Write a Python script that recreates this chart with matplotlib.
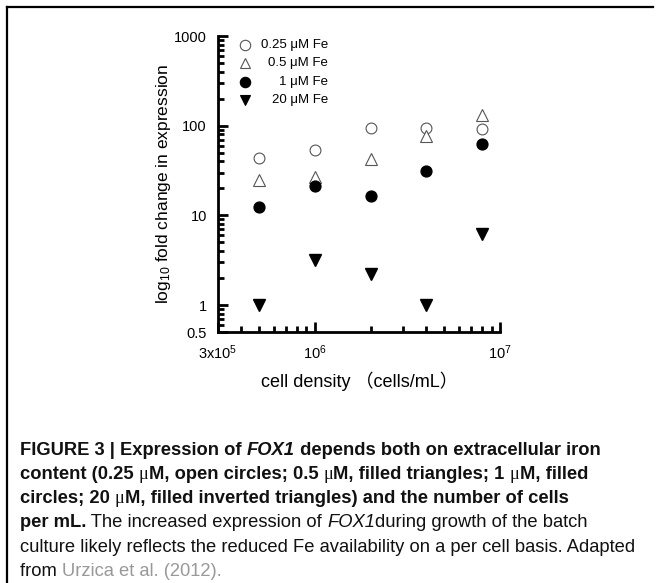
import matplotlib
matplotlib.use("Agg")
import matplotlib.pyplot as plt
from matplotlib.lines import Line2D
from matplotlib.ticker import FixedLocator, NullFormatter

# data
cell_density = [5e5, 1e6, 2e6, 4e6, 8e6]
fe_025 = [44, 54, 93, 94, 91]
fe_05 = [24.5, 27, 42, 77, 131]
fe_1 = [12.5, 21.5, 16.3, 31.5, 62]
fe_20 = [1.0, 3.2, 2.2, 1.0, 6.2]

series_labels = ["0.25 \u03bcM Fe", "0.5 \u03bcM Fe", "1 \u03bcM Fe", "20 \u03bcM Fe"]
x_ticks = [3e5, 1e6, 1e7]
x_ticklabels = ["3x10$^5$", "10$^6$", "10$^7$"]
y_ticks = [0.5, 1, 10, 100, 1000]
y_ticklabels = ["0.5", "1", "10", "100", "1000"]

plt.rcParams["font.family"] = ["Liberation Sans", "DejaVu Sans"]
plt.rcParams["mathtext.fontset"] = "custom"
plt.rcParams["mathtext.rm"] = "Liberation Sans"
plt.rcParams["mathtext.it"] = "Liberation Sans:italic"

W, H = 658, 583
fig = plt.figure(figsize=(W / 100, H / 100), dpi=100)

# frame: top and left only
fig.add_artist(Line2D([7 / W, 7 / W], [0, 1 - 7 / H], color="black", lw=1.6))
fig.add_artist(Line2D([7 / W, 653 / W], [1 - 7 / H, 1 - 7 / H], color="black", lw=1.6))

ax = fig.add_axes([218 / W, 1 - 332 / H, 282 / W, 296 / H])
ax.set_xscale("log")
ax.set_yscale("log")
ax.set_xlim(3e5, 1e7)
ax.set_ylim(0.5, 1000)

ms = 7.8
ax.plot(cell_density, fe_025, "o", ms=ms, mfc="white", mec="#555555", mew=0.8, ls="none")
ax.plot(cell_density, fe_05, "^", ms=ms + 0.5, mfc="white", mec="#555555", mew=0.8, ls="none")
ax.plot(cell_density, fe_1, "o", ms=ms, mfc="black", mec="black", ls="none")
ax.plot(cell_density, fe_20, "v", ms=ms + 0.5, mfc="black", mec="black", ls="none")

for side in ["top", "right"]:
    ax.spines[side].set_visible(False)
for side in ["left", "bottom"]:
    ax.spines[side].set_linewidth(2)

ax.xaxis.set_major_locator(FixedLocator(x_ticks))
ax.set_xticklabels(x_ticklabels)
x_minor = [k * 10**e for e in (5, 6) for k in range(2, 10) if 3e5 < k * 10**e < 1e7]
ax.xaxis.set_minor_locator(FixedLocator(x_minor))
ax.xaxis.set_minor_formatter(NullFormatter())

ax.yaxis.set_major_locator(FixedLocator(y_ticks))
ax.set_yticklabels(y_ticklabels)
y_minor = [k * 10**e for e in (0, 1, 2) for k in range(2, 10)] + [0.6, 0.7, 0.8, 0.9]
ax.yaxis.set_minor_locator(FixedLocator(y_minor))
ax.yaxis.set_minor_formatter(NullFormatter())

ax.tick_params(which="major", direction="in", length=7, width=2, labelsize=10.5, pad=8)
ax.tick_params(which="minor", direction="in", length=4, width=2)
ax.tick_params(axis="x", which="major", pad=8)

ax.set_xlabel("cell density \uff08cells/mL\uff09", fontsize=13, labelpad=7,
              family=["Liberation Sans", "Noto Sans CJK SC"])
ax.set_ylabel("log$_{10}$ fold change in expression", fontsize=12.5, labelpad=1)

# legend, text right aligned
markers = [("o", "white", "#555555"), ("^", "white", "#555555"), ("o", "black", "black"), ("v", "black", "black")]
rows = [0.970, 0.908, 0.845, 0.784]
for (m, fc, ec), lab, yy in zip(markers, series_labels, rows):
    ax.plot([0.096], [yy], m, transform=ax.transAxes, ms=ms - 0.3, mfc=fc, mec=ec, mew=0.8, clip_on=False)
    ax.text(0.39, yy, lab, transform=ax.transAxes, ha="right", va="center", fontsize=9.5)

# caption, drawn as runs of styled text
fig.canvas.draw()
renderer = fig.canvas.get_renderer()


def draw_runs(x_px, y_px, runs, size=13.2):
    x = x_px
    for txt, kw in runs:
        t = fig.text(x / W, 1 - y_px / H, txt, fontsize=size, va="baseline", ha="left",
                     family=kw.get("family", "Liberation Sans"), weight=kw.get("weight", "normal"),
                     style=kw.get("style", "normal"), color=kw.get("color", "#111111"))
        bb = t.get_window_extent(renderer)
        x += bb.width


B = {"weight": "bold"}
BI = {"weight": "bold", "style": "italic"}
N = {}
I = {"style": "italic"}
MU = {"family": "Liberation Serif"}
G = {"color": "#999999"}

draw_runs(20, 455, [("FIGURE 3 | Expression of ", B), ("FOX1", BI), (" depends both on extracellular iron", B)])
draw_runs(20, 479, [("content (0.25 ", B), ("\u03bc", MU), ("M, open circles; 0.5 ", B), ("\u03bc", MU),
                    ("M, filled triangles; 1 ", B), ("\u03bc", MU), ("M, filled", B)])
draw_runs(20, 503, [("circles; 20 ", B), ("\u03bc", MU), ("M, filled inverted triangles) and the number of cells", B)])
draw_runs(20, 527, [("per mL.", B), (" The increased expression of ", N), ("FOX1", I), ("during growth of the batch", N)])
draw_runs(20, 552, [("culture likely reflects the reduced Fe availability on a per cell basis. Adapted", N)])
draw_runs(20, 576, [("from ", N), ("Urzica et al. (2012).", G)])

fig.savefig("out.png", dpi=100)
